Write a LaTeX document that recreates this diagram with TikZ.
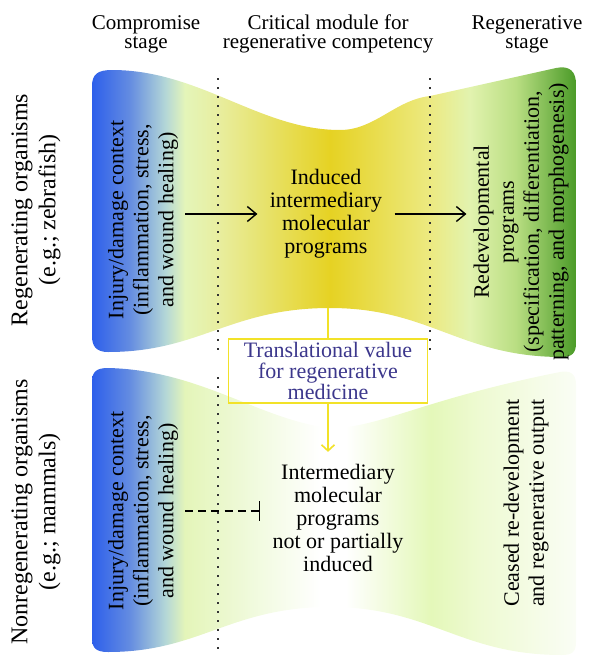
\documentclass[tikz,border=0pt]{standalone}
\usepackage{fontspec}
\setmainfont{Liberation Serif}
\usetikzlibrary{arrows.meta}

\definecolor{bandblue}{RGB}{45,95,235}
\definecolor{blueish}{RGB}{100,140,225}
\definecolor{bluegreen}{RGB}{180,215,215}
\definecolor{palegreen}{RGB}{228,245,185}
\definecolor{paleyellow}{RGB}{232,238,160}
\definecolor{coreyellow}{RGB}{230,210,35}
\definecolor{lightyellow}{RGB}{236,234,130}
\definecolor{greenish}{RGB}{226,243,175}
\definecolor{midgreen}{RGB}{185,222,130}
\definecolor{bandgreen}{RGB}{75,155,40}
\definecolor{faintgreen}{RGB}{240,250,220}
\definecolor{softgreen}{RGB}{228,248,185}
\definecolor{fadegreen}{RGB}{238,250,210}
\definecolor{endwhite}{RGB}{250,253,245}
\definecolor{boxyellow}{RGB}{242,226,40}
\definecolor{transblue}{RGB}{60,55,140}

% top band: blue -> yellow core -> green
\pgfdeclarehorizontalshading{regenshade}{100bp}{color(0bp)=(bandblue); color(25bp)=(bandblue);
 color(28.9bp)=(blueish); color(32.6bp)=(bluegreen); color(34.6bp)=(palegreen);
 color(38bp)=(paleyellow); color(49.6bp)=(coreyellow); color(60bp)=(lightyellow);
 color(64bp)=(greenish); color(68.8bp)=(midgreen); color(75bp)=(bandgreen); color(100bp)=(bandgreen)}
% bottom band: blue -> white gap -> faint green
\pgfdeclarehorizontalshading{nonregenshade}{100bp}{color(0bp)=(bandblue); color(25bp)=(bandblue);
 color(28.9bp)=(blueish); color(32.6bp)=(bluegreen); color(34.6bp)=(palegreen);
 color(41.4bp)=(faintgreen); color(48.6bp)=(white); color(51.2bp)=(white);
 color(60bp)=(softgreen); color(65bp)=(fadegreen); color(75bp)=(endwhite); color(100bp)=(endwhite)}

\tikzset{
 headtext/.style={align=center, font=\fontsize{10.5}{9.5}\selectfont},
 sidetext/.style={rotate=90, align=center, font=\fontsize{12}{14}\selectfont},
 bandtext/.style={rotate=90, align=center, font=\fontsize{11}{12.5}\selectfont},
 midtext/.style={align=center, inner sep=6pt, font=\fontsize{11}{11.5}\selectfont},
 stageline/.style={line width=0.8pt, dash pattern=on 0.8pt off 3.7pt, black!80},
 flowarrow/.style={-{Straight Barb[length=4.5pt,width=7.5pt]}, line width=0.7pt},
 blockarrow/.style={-{Bar[width=10pt]}, line width=0.7pt, dash pattern=on 4pt off 2.6pt},
 transbox/.style={draw=boxyellow, line width=0.8pt, minimum width=99.5pt, minimum height=32pt,
   inner sep=0pt, align=center, text=transblue, font=\fontsize{11}{10.5}\selectfont},
 transline/.style={draw=boxyellow, line width=0.8pt}
}

\begin{document}
\begin{tikzpicture}[x=0.5pt,y=-0.5pt]
\useasboundingbox (0,0) rectangle (590,669);

% bands
\shade[shading=regenshade]
(92,86) .. controls (92,74) and (98,70) .. (112,70)
 .. controls (200,70) and (260,130) .. (340,130)
 .. controls (375,130) and (395,100) .. (430,96)
 -- (556,68) .. controls (570,65) and (576,72) .. (576,84)
 -- (576,343) .. controls (576,353) and (572,357) .. (562,357)
 .. controls (460,357) and (430,308) .. (330,308)
 .. controls (230,308) and (200,352) .. (108,352)
 .. controls (96,352) and (92,346) .. (92,336) -- cycle;

\shade[shading=nonregenshade]
(92,382) .. controls (92,372) and (96,368) .. (108,368)
 .. controls (200,370) and (260,420) .. (330,428)
 .. controls (380,428) and (420,400) .. (560,372)
 .. controls (570,370) and (576,374) .. (576,384)
 -- (576,642) .. controls (576,652) and (572,655) .. (562,655)
 .. controls (460,655) and (430,607) .. (330,607)
 .. controls (230,607) and (200,652) .. (108,652)
 .. controls (96,652) and (92,648) .. (92,638) -- cycle;

% stage borders
\draw [stageline] (218,78)--(218,353);
\draw [stageline] (218,377)--(218,650);
\draw [stageline] (430,78)--(430,353);

% headings
\node [headtext] (compromise) at (146,34) {Compromise\\stage};
\node [headtext] (critical) at (328,34) {Critical module for\\regenerative competency};
\node [headtext] (regenerative) at (527,34) {Regenerative\\stage};

\node [sidetext] (regorg) at (36,210) {Regenerating organisms\\(e.g.; zebrafish)};
\node [sidetext] (nonregorg) at (36,512) {Nonregenerating organisms\\(e.g.; mammals)};

% upper row
\node [bandtext] (injtop) at (143,220) {Injury/damage context\\(inflammation, stress,\\and wound healing)};
\node [midtext] (induced) at (326,214) {Induced\\intermediary\\molecular\\programs};
\node [bandtext] (redev) at (521,222) {Redevelopmental\\programs\\(specification, differentiation,\\patterning, and morphogenesis)};

\draw [flowarrow] (injtop.south |- induced.west)--(induced.west);
\draw [flowarrow] (induced.east)--(induced.east -| redev.north);

% lower row
\node [bandtext] (injlow) at (143,511) {Injury/damage context\\(inflammation, stress,\\and wound healing)};
\node [midtext] (notinduced) at (338,518) {Intermediary\\molecular\\programs\\not or partially\\induced};
\node [bandtext] (ceased) at (526,503) {Ceased re-development\\and regenerative output};

\draw [blockarrow] (injlow.south)--(injlow.south -| notinduced.west);

% translational link
\coordinate (core) at (328,308);
\node [transbox] (transl) at (328,371) {Translational value\\for regenerative\\medicine};
\draw [transline] (core)--(transl.north);
\draw [transline, -{Straight Barb[length=3pt,width=6.5pt]}] (transl.south)--(transl.south |- notinduced.north);

%\draw [thick, red] (92,70) rectangle (576,357);
\end{tikzpicture}
\end{document}
